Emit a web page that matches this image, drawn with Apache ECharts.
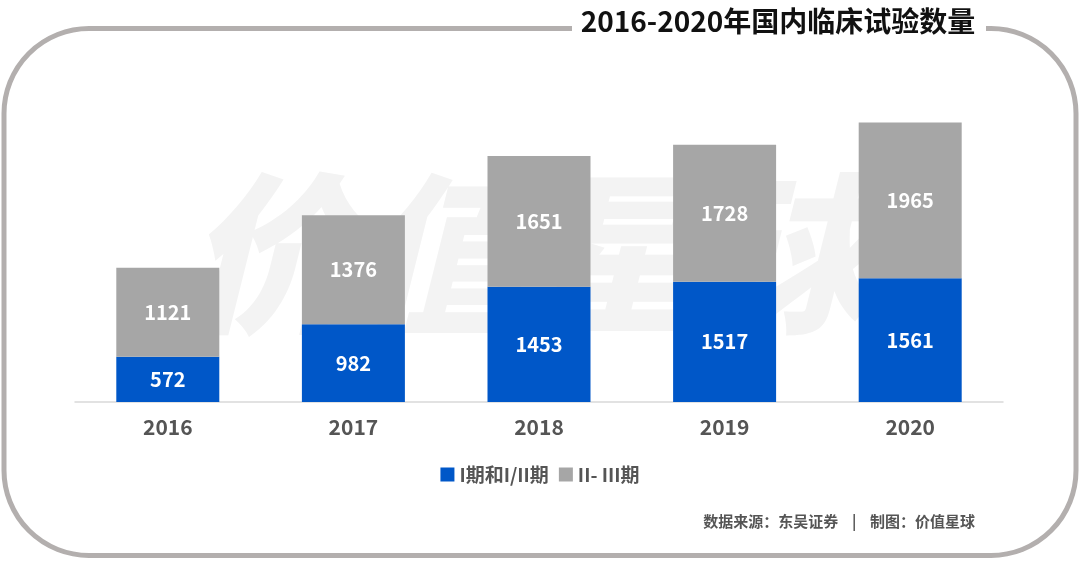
<!DOCTYPE html>
<html><head><meta charset="utf-8">
<script src="https://cdn.jsdelivr.net/npm/echarts@6/dist/echarts.min.js"></script>
<style>html,body{margin:0;padding:0;background:#fff}#c{width:1080px;height:563px}</style>
</head><body><div id="c"></div>
<script>
const categories = ['2016','2017','2018','2019','2020'];
const phaseI = [572, 982, 1453, 1517, 1561];
const phaseII = [1121, 1376, 1651, 1728, 1965];
const seriesNames = ['I期和I/II期', 'II- III期'];
const titleText = '2016-2020年国内临床试验数量';
const footerText = '数据来源：东吴证券    |    制图：价值星球';
const watermark = '价值星球';

const font = '"Noto Sans CJK SC", "Noto Sans", sans-serif';
const chart = echarts.init(document.getElementById('c'), null, {renderer: 'canvas'});
const labelStyle = {show: true, position: 'inside', color: '#fff', fontSize: 20, fontWeight: 'bold', fontFamily: font};
chart.setOption({
  animation: false,
  backgroundColor: '#fff',
  textStyle: {fontFamily: font},
  graphic: [
    {type: 'text', z: -10, left: 185, top: 168, style: {text: watermark, fontSize: 172, fontWeight: 900, fontStyle: 'italic', fontFamily: font, fill: '#f3f3f3'}},
    {type: 'rect', z: 10, shape: {x: 4, y: 28.5, width: 1072, height: 527, r: 85}, style: {fill: 'none', stroke: '#b3afae', lineWidth: 5}},
    {type: 'rect', z: 11, shape: {x: 572, y: 20, width: 414, height: 20}, style: {fill: '#fff'}},
    {type: 'text', z: 12, x: 778, y: 21, style: {text: titleText, fontSize: 28, fontWeight: 'bold', fontFamily: font, fill: '#111', align: 'center', verticalAlign: 'middle'}},
    {type: 'text', z: 12, x: 975, y: 521, style: {text: footerText, fontSize: 15, fontWeight: 'bold', fontFamily: font, fill: '#555', align: 'right', verticalAlign: 'middle'}}
  ],
  legend: {
    data: seriesNames, left: 'center', top: 460, itemWidth: 14, itemHeight: 14, itemGap: 10,
    icon: 'rect',
    textStyle: {fontSize: 19, fontWeight: 'bold', color: '#555', fontFamily: font}
  },
  grid: {left: 75, right: 77, top: 85, bottom: 161},
  xAxis: {
    type: 'category', data: categories,
    axisLine: {lineStyle: {color: '#d9d9d9', width: 1.5}},
    axisTick: {show: false},
    axisLabel: {color: '#555', fontSize: 21, fontWeight: 'bold', margin: 15, fontFamily: font}
  },
  yAxis: {type: 'value', min: 0, max: 4000, show: false, splitLine: {show: false}},
  series: [
    {name: seriesNames[0], type: 'bar', stack: 't', data: phaseI, barWidth: 103, itemStyle: {color: '#0057c8'}, label: labelStyle},
    {name: seriesNames[1], type: 'bar', stack: 't', data: phaseII, barWidth: 103, itemStyle: {color: '#a6a6a6'}, label: labelStyle}
  ]
});
</script></body></html>
